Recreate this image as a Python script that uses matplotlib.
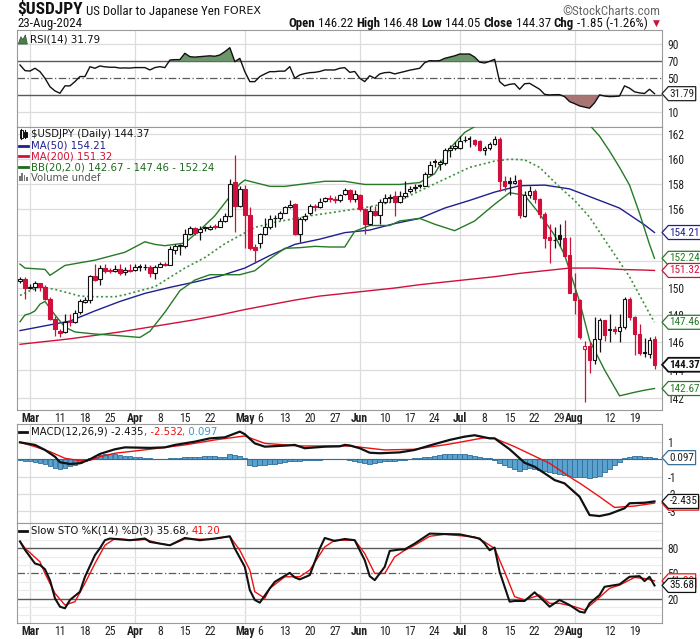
import numpy as np
import matplotlib
matplotlib.use("Agg")
import matplotlib.pyplot as plt
from matplotlib import font_manager as fm
from matplotlib.path import Path
from matplotlib.patches import Rectangle, Polygon

# ------------------------------------------------------------------ data
day_index = list(range(-2, 126))          # trading-day index, 0 = 1-Mar-2024
opens = [150.50, 150.65, 150.00, 150.05, 150.35, 150.05, 149.20, 147.70, 146.80, 146.75,
         147.55, 147.45, 148.20, 148.95, 149.10, 150.90, 150.65, 151.50, 151.35, 151.30,
         151.45, 151.20, 151.35, 151.35, 151.55, 151.55, 151.60, 151.10, 151.60, 151.80,
         151.75, 152.85, 153.20, 153.15, 154.10, 154.55, 154.25, 154.55, 154.50, 154.70,
         154.65, 155.10, 155.50, 158.15, 156.25, 157.60, 155.60, 153.10, 153.40, 154.10,
         154.60, 155.30, 155.30, 155.75, 156.20, 156.40, 154.10, 155.25, 155.70, 156.30,
         156.20, 156.65, 156.90, 156.80, 156.70, 157.20, 157.50, 156.80, 157.10, 156.00,
         154.90, 155.90, 155.55, 156.60, 156.90, 157.05, 156.60, 157.05, 157.45, 157.70,
         157.85, 157.85, 158.80, 159.70, 159.60, 159.65, 160.70, 160.85, 160.85, 161.45,
         161.60, 161.45, 161.40, 160.70, 160.85, 161.20, 161.55, 158.20, 158.20, 158.05,
         158.30, 155.50, 157.15, 157.40, 156.80, 155.65, 153.85, 153.60, 154.05, 153.80,
         152.50, 149.65, 149.10, 145.50, 145.75, 144.70, 146.20, 147.60, 146.90, 146.95,
         146.85, 147.15, 149.20, 147.85, 146.60, 145.30, 145.15, 146.22]
highs = [150.85, 150.80, 150.30, 150.50, 150.40, 150.20, 149.30, 147.90, 146.95, 148.10,
         148.10, 148.40, 149.15, 149.30, 151.00, 151.80, 151.70, 151.80, 151.50, 151.75,
         151.80, 151.55, 151.80, 151.80, 151.80, 151.80, 151.75, 151.75, 151.95, 151.95,
         153.20, 153.30, 153.35, 154.50, 154.70, 154.65, 154.70, 154.75, 154.80, 154.90,
         155.30, 155.70, 158.40, 160.25, 157.80, 157.90, 156.20, 153.30, 154.20, 155.30,
         155.60, 155.60, 155.90, 156.30, 156.70, 156.50, 155.40, 155.70, 156.40, 156.40,
         156.90, 157.00, 157.10, 157.05, 157.20, 157.70, 157.60, 157.50, 157.20, 156.10,
         156.30, 156.30, 156.80, 157.20, 157.20, 157.40, 157.40, 158.20, 157.80, 158.00,
         158.00, 158.95, 159.80, 159.95, 159.90, 160.85, 161.10, 161.35, 161.85, 161.80,
         161.85, 161.60, 161.50, 161.00, 161.30, 161.80, 161.70, 158.60, 158.55, 158.70,
         158.40, 157.40, 157.80, 157.60, 156.90, 155.80, 154.90, 154.60, 154.90, 155.20,
         153.90, 151.10, 149.20, 146.10, 146.00, 147.85, 147.80, 147.65, 148.10, 147.20,
         148.10, 149.35, 149.30, 147.90, 147.30, 146.30, 146.40, 146.48]
lows = [150.35, 149.20, 149.90, 149.80, 149.80, 149.10, 147.60, 146.45, 146.40, 146.70,
        147.20, 147.40, 148.10, 148.85, 148.90, 150.50, 150.20, 151.15, 151.10, 151.20,
        151.00, 151.00, 151.20, 151.30, 151.30, 151.35, 150.80, 150.70, 151.55, 151.65,
        151.70, 152.60, 152.50, 153.00, 154.00, 154.00, 153.60, 154.30, 154.40, 154.50,
        154.60, 155.00, 155.40, 154.25, 156.20, 153.00, 152.85, 151.85, 153.00, 154.00,
        154.50, 154.60, 155.20, 155.70, 156.10, 154.00, 153.50, 155.10, 155.60, 155.90,
        156.10, 156.60, 156.60, 156.50, 156.60, 157.10, 156.60, 156.60, 155.90, 154.10,
        154.80, 155.50, 154.85, 156.50, 156.60, 155.50, 156.50, 156.90, 157.30, 157.45,
        157.70, 157.80, 158.70, 159.30, 159.10, 159.50, 160.10, 160.70, 160.80, 161.30,
        160.90, 161.00, 160.60, 160.30, 160.70, 161.10, 157.40, 157.40, 157.15, 158.00,
        155.30, 155.40, 156.90, 156.50, 155.30, 153.00, 151.85, 153.00, 153.20, 152.40,
        149.60, 148.10, 146.20, 141.70, 143.75, 144.45, 145.30, 146.10, 146.00, 146.60,
        146.00, 147.00, 147.60, 145.10, 145.10, 144.90, 144.85, 144.05]
closes = [150.65, 150.00, 150.05, 150.35, 150.10, 149.20, 147.70, 147.00, 146.70, 147.50,
          147.45, 148.15, 149.00, 149.10, 150.90, 150.60, 151.50, 151.30, 151.25, 151.45,
          151.15, 151.35, 151.30, 151.55, 151.55, 151.60, 151.10, 151.60, 151.80, 151.75,
          152.95, 153.20, 153.25, 154.10, 154.55, 154.20, 154.50, 154.60, 154.65, 154.60,
          155.10, 155.50, 158.00, 156.25, 157.60, 155.60, 153.05, 152.90, 154.10, 154.60,
          155.25, 155.35, 155.70, 156.15, 156.35, 154.10, 155.25, 155.50, 156.30, 156.15,
          156.60, 156.85, 156.80, 156.75, 157.15, 157.50, 156.80, 157.20, 156.00, 154.90,
          155.90, 155.55, 156.60, 156.90, 156.95, 156.60, 157.05, 157.30, 157.60, 157.75,
          157.85, 158.80, 159.50, 159.70, 159.75, 160.70, 160.85, 161.00, 161.40, 161.50,
          161.60, 161.15, 160.70, 160.85, 161.20, 161.55, 158.20, 157.80, 158.05, 158.25,
          155.55, 157.10, 157.45, 156.80, 155.65, 153.80, 153.60, 153.65, 153.75, 152.45,
          149.65, 149.10, 146.40, 145.75, 144.70, 146.20, 147.60, 146.55, 146.95, 146.85,
          147.10, 149.20, 147.85, 146.60, 145.20, 145.20, 146.15, 144.37]

ma50_days = [-2, 3, 8, 13, 18, 23, 28, 33, 38, 43, 48, 53, 58, 63, 68, 73, 78, 83, 88, 93,
             98, 103, 108, 113, 118, 123, 125]
ma50_vals = [146.85, 147.2, 147.55, 148.3, 149.0, 149.6, 150.05, 150.45, 150.9, 151.5,
             152.45, 153.3, 153.7, 154.2, 154.4, 154.9, 155.3, 156.1, 156.7, 157.35,
             157.85, 157.9, 157.6, 156.85, 156.1, 154.8, 154.21]
ma200_days = ma50_days
ma200_vals = [145.85, 146.05, 146.25, 146.5, 146.75, 147.05, 147.35, 147.65, 148.0, 148.4,
              148.75, 149.1, 149.4, 149.6, 149.8, 150.0, 150.25, 150.45, 150.65, 150.85,
              151.1, 151.3, 151.5, 151.5, 151.4, 151.35, 151.32]

bbu_days = [-2, -1, 1, 3, 4, 7, 13, 19, 23, 25, 27, 31, 34, 37, 40, 42, 43, 46, 48, 51, 55,
            59, 63, 67, 74, 78, 81, 84, 87, 90, 94, 98, 103, 108, 112, 114, 116, 118, 120,
            122, 124, 125]
bbu_vals = [151.8, 151.5, 151.45, 151.4, 150.95, 151.7, 152.1, 152.7, 153.5, 153.3, 153.2,
            153.4, 154.4, 155.5, 157.0, 158.0, 158.3, 158.0, 157.8, 157.8, 158.0, 158.2,
            158.2, 157.95, 157.95, 158.1, 158.8, 160.8, 162.1, 162.8, 163.3, 163.6, 163.6,
            163.3, 162.7, 161.8, 160.6, 159.3, 157.9, 155.7, 153.3, 152.24]
bbm_days = [-2, 0, 2, 5, 7, 10, 13, 17, 19, 25, 28, 31, 35, 39, 45, 49, 56, 63, 68, 74, 81,
            88, 93, 96, 99, 102, 106, 109, 112, 116, 120, 124, 125]
bbm_vals = [149.45, 149.8, 150.1, 149.9, 149.7, 149.4, 149.35, 149.35, 149.5, 150.1, 150.8,
            151.5, 152.3, 153.35, 154.6, 155.0, 155.5, 155.9, 156.2, 156.7, 158.0, 159.3,
            159.8, 159.95, 159.9, 159.3, 157.75, 156.7, 155.4, 153.1, 150.85, 148.1, 147.46]
bbl_days = [-2, -1, 0, 1, 2, 3, 4, 5, 7, 9, 13, 17, 22, 24, 27, 30, 33, 36, 39, 42, 45, 48,
            51, 54, 57, 60, 63, 65, 68, 72, 74, 78, 81, 85, 89, 93, 96, 99, 102, 105, 107,
            110, 112, 115, 118, 121, 123, 125]
bbl_vals = [147.5, 148.0, 148.1, 148.3, 148.8, 149.0, 148.5, 148.0, 147.1, 146.75, 146.6,
            146.5, 146.35, 146.8, 148.2, 149.8, 150.6, 151.0, 151.0, 151.0, 151.3, 152.2,
            153.0, 153.05, 153.15, 153.1, 153.1, 154.3, 154.75, 154.75, 155.1, 155.3, 154.85,
            154.35, 155.1, 156.4, 157.3, 157.1, 155.65, 154.0, 152.5, 149.0, 146.15, 144.0,
            142.15, 142.4, 142.55, 142.67]

rsi_vals = [65.7, 59.0, 58.5, 61.8, 57.8, 50.0, 40.0, 35.0, 32.3, 41.0,
            41.0, 46.0, 52.0, 52.0, 63.6, 61.8, 64.5, 63.5, 63.0, 63.0,
            62.0, 62.2, 62.0, 62.6, 62.6, 62.6, 59.8, 62.6, 63.7, 62.6,
            71.5, 72.0, 72.0, 79.5, 75.5, 75.0, 75.5, 76.0, 76.5, 76.0,
            77.5, 81.4, 86.1, 69.6, 73.5, 57.8, 46.0, 46.0, 52.0, 55.1,
            57.8, 57.8, 58.4, 58.4, 63.7, 50.0, 53.9, 55.5, 56.6, 57.0,
            58.0, 59.8, 59.8, 59.8, 61.8, 62.5, 57.0, 58.0, 50.0, 46.0,
            53.0, 50.0, 55.1, 56.6, 57.0, 55.1, 56.5, 58.0, 59.5, 60.6,
            61.8, 68.4, 70.8, 70.5, 70.8, 73.5, 75.0, 76.5, 78.6, 78.6,
            78.6, 75.0, 69.0, 68.0, 70.0, 72.4, 46.0, 41.0, 42.8, 43.5,
            37.0, 43.5, 44.0, 40.5, 37.0, 31.0, 30.3, 30.6, 30.6, 28.3,
            22.4, 20.0, 17.3, 16.0, 14.6, 21.0, 30.3, 29.0, 28.3, 28.5,
            29.0, 41.0, 38.3, 34.0, 32.7, 32.0, 37.0, 31.79]

macd_days = [-2, 1, 3, 5, 6, 8, 10, 12, 14, 17, 19, 24, 27, 29, 33, 36, 39, 42, 43, 45, 47,
             51, 53, 55, 59, 62, 63, 64, 66, 68, 70, 74, 77, 81, 84, 87, 89, 92, 93, 96, 99,
             101, 104, 105, 107, 110, 112, 114, 116, 119, 120, 123, 125]
macd_vals = [0.98, 0.83, 0.54, 0.15, -0.17, -0.27, -0.23, 0.0, 0.31, 0.58, 0.69, 0.66, 0.69,
             0.83, 1.02, 1.21, 1.27, 1.6, 1.45, 0.92, 0.73, 0.79, 0.83, 0.64, 0.73, 0.75, 0.83,
             0.8, 0.64, 0.38, 0.35, 0.4, 0.54, 0.88, 1.12, 1.31, 1.39, 1.21, 1.21, 0.58, -0.2,
             -0.43, -1.0, -1.2, -1.39, -2.16, -3.22, -3.28, -3.16, -2.83, -2.54, -2.51, -2.435]
signal_days = [-2, 1, 4, 7, 10, 12, 14, 17, 24, 31, 37, 43, 47, 54, 64, 71, 77, 84, 91, 93,
               97, 104, 109, 110, 114, 117, 121, 125]
signal_vals = [0.98, 0.73, 0.44, 0.06, -0.08, -0.06, 0.15, 0.35, 0.58, 0.83, 1.12, 1.35, 0.92,
               0.77, 0.77, 0.54, 0.58, 0.88, 1.25, 1.21, 0.73, -0.23, -1.2, -1.37, -2.16,
               -2.78, -2.7, -2.532]
hist_vals = [-0.05, -0.08, -0.10, -0.15, -0.20, -0.28, -0.38, -0.50, -0.55, -0.48,
             -0.40, -0.30, -0.20, -0.08, 0.05, 0.15, 0.25, 0.30, 0.30, 0.28,
             0.25, 0.20, 0.18, 0.15, 0.12, 0.10, 0.06, 0.03, 0.00, 0.02,
             0.05, 0.08, 0.10, 0.12, 0.14, 0.15, 0.16, 0.18, 0.18, 0.17,
             0.16, 0.15, 0.30, 0.25, 0.20, 0.10, -0.30, -0.40, -0.35, -0.30,
             -0.28, -0.25, -0.20, -0.15, -0.12, -0.12, -0.08, -0.06, -0.05, -0.04,
             -0.03, 0.00, 0.02, 0.03, 0.02, 0.02, -0.05, -0.10, -0.15, -0.22,
             -0.25, -0.22, -0.18, -0.12, -0.10, -0.08, -0.05, -0.02, 0.00, 0.05,
             0.10, 0.12, 0.15, 0.20, 0.25, 0.28, 0.30, 0.30, 0.30, 0.28,
             0.25, 0.20, 0.15, 0.10, 0.05, -0.05, -0.20, -0.35, -0.45, -0.55,
             -0.65, -0.55, -0.50, -0.55, -0.60, -0.70, -0.75, -0.80, -0.85, -0.90,
             -0.95, -1.00, -1.05, -1.05, -1.10, -1.05, -0.95, -0.75, -0.55, -0.35,
             -0.15, 0.05, 0.15, 0.20, 0.20, 0.15, 0.12, 0.097]

stok_days = [-2, -1, 1, 2, 3, 4, 5, 6, 7, 8, 10, 11, 13, 14, 15, 16, 20, 23, 24, 28, 31, 34,
             37, 40, 41, 43, 44, 45, 46, 48, 49, 52, 53, 54, 56, 58, 59, 61, 63, 65, 67, 68,
             69, 71, 72, 74, 75, 77, 80, 82, 86, 90, 91, 92, 93, 94, 96, 97, 99, 101, 103,
             104, 106, 108, 110, 111, 112, 114, 115, 118, 120, 122, 123, 124, 125]
stok_vals = [88.0, 78.0, 61.8, 60.0, 55.0, 42.0, 20.4, 10.4, 8.5, 18.4, 28.2, 46.0, 71.7,
             80.0, 89.5, 91.5, 89.5, 91.5, 87.5, 83.5, 92.2, 89.5, 91.5, 94.2, 79.6, 57.8,
             30.2, 18.4, 15.2, 32.2, 40.0, 50.7, 45.2, 42.9, 48.0, 79.6, 92.2, 88.6, 91.0,
             89.5, 65.8, 46.8, 42.0, 57.8, 76.8, 78.4, 78.5, 85.5, 97.4, 97.0, 96.5, 91.5,
             85.5, 77.6, 80.8, 51.9, 16.4, 17.2, 17.2, 27.5, 16.4, 10.4, 18.4, 12.4, 4.5,
             3.3, 14.4, 24.3, 34.1, 37.0, 46.0, 46.8, 40.9, 46.0, 35.68]
stod_days = [-2, -1, 2, 3, 5, 7, 9, 11, 13, 15, 17, 21, 23, 26, 28, 31, 36, 40, 42, 44, 45,
             47, 48, 51, 54, 56, 59, 61, 65, 67, 69, 71, 73, 75, 77, 80, 83, 89, 91, 93, 95,
             97, 99, 102, 104, 106, 109, 111, 113, 116, 118, 121, 123, 125]
stod_vals = [88.3, 80.0, 63.8, 50.0, 26.3, 12.4, 16.4, 38.2, 61.8, 83.5, 91.5, 89.5, 90.5,
             85.5, 83.5, 91.0, 90.5, 94.0, 77.6, 54.0, 28.2, 20.4, 32.2, 46.0, 46.0, 54.0,
             81.5, 89.5, 89.5, 73.7, 50.0, 50.0, 69.7, 77.6, 83.5, 94.2, 96.5, 93.4, 87.5,
             79.6, 51.9, 22.3, 18.4, 24.3, 14.4, 14.4, 10.4, 6.5, 16.4, 32.2, 36.1, 45.2,
             44.0, 41.2]

xtick_days = [0, 6, 11, 16, 21, 26, 31, 36, 43, 46, 51, 56, 61, 66, 71, 76, 81, 86, 91, 96,
              101, 106, 109, 116, 121]
xtick_labels = ["Mar", "11", "18", "25", "Apr", "8", "15", "22", "May", "6", "13", "20", "27",
                "Jun", "10", "17", "24", "Jul", "8", "15", "22", "29", "Aug", "12", "19"]
month_days = [0, 21, 43, 66, 86, 109]
price_ticks = [142, 144, 146, 148, 150, 152, 154, 156, 158, 160, 162]

# ------------------------------------------------------------------ style
avail = {f.name for f in fm.fontManager.ttflist}
def pick(*names):
    for n in names:
        if n in avail:
            return n
    return "DejaVu Sans"
NARROW = pick("Liberation Sans Narrow", "Arial Narrow", "Roboto Condensed", "Liberation Sans")
WIDE = "DejaVu Sans"

RED = "#d0103a"
NAVY = "#1f1f8f"
GREEN = "#267a26"
GRID = "#dcdcdc"
DARK = "#5a5a5a"
BORDER = "#9a9a9a"
HIST_FC = "#5ba2cf"
HIST_EC = "#2e6f9c"

W, H = 700, 639
fig = plt.figure(figsize=(W / 100, H / 100), dpi=100)
LEFT, RIGHT = 17, 662

def add_panel(top, bottom):
    return fig.add_axes([LEFT / W, 1 - bottom / H, (RIGHT - LEFT) / W, (bottom - top) / H])

ax_rsi = add_panel(30, 127)
ax_px = add_panel(127, 410)
ax_macd = add_panel(424, 523)
ax_sto = add_panel(523, 623)

XMIN, XMAX = -2.6, 126.5
for ax in (ax_rsi, ax_px, ax_macd, ax_sto):
    ax.set_xlim(XMIN, XMAX)
    for s in ax.spines.values():
        s.set_color(BORDER)
        s.set_linewidth(0.8)
    ax.yaxis.tick_right()
    ax.tick_params(axis="y", length=0, pad=4, labelsize=8.3, labelcolor="#222222")
    ax.tick_params(axis="x", length=0)
    for d in month_days:
        ax.axvline(d, color=GRID, lw=0.9, zorder=0)
    ax.set_xticks([])

def set_ylabels(ax, ticks, labels):
    ax.set_yticks(ticks)
    ax.set_yticklabels(labels, fontfamily=NARROW)

def set_xlabels(ax):
    ax.set_xticks(xtick_days)
    ax.set_xticklabels(xtick_labels, fontfamily=NARROW, fontsize=8.5, color="#222222")
    for lab in ax.get_xticklabels():
        if lab.get_text().isalpha():
            lab.set_fontweight("bold")
    ax.tick_params(axis="x", length=0, pad=1.5)

# ---- custom tag box (arrow pointing to the axis)
def tag_box(x0, y0, width, height, mutation_size):
    pad = 0.18 * mutation_size
    x0, y0 = x0 - pad * 0.6, y0 - pad
    width, height = width + pad * 1.2, height + 2 * pad
    tip = height * 0.45
    verts = [(x0 - tip, y0 + height / 2), (x0, y0), (x0 + width, y0),
             (x0 + width, y0 + height), (x0, y0 + height), (x0 - tip, y0 + height / 2)]
    return Path(verts, closed=True)

def tag(ax, y, text, ec, tc=None, bold=False, lw=0.9, size=8.0):
    ax.annotate(text, xy=(1, y), xycoords=("axes fraction", "data"), xytext=(5.4, 0),
                textcoords="offset points", ha="left", va="center", fontsize=size,
                fontfamily=NARROW, color=tc or ec, fontweight="bold" if bold else "normal",
                bbox=dict(boxstyle=tag_box, fc="white", ec=ec, lw=lw),
                annotation_clip=False, zorder=20)

# ------------------------------------------------------------------ RSI panel
ax_rsi.set_ylim(-7.6, 107)
for v in (10, 90):
    ax_rsi.axhline(v, color=GRID, lw=0.9, zorder=0)
for v in (30, 70):
    ax_rsi.axhline(v, color=DARK, lw=1.0, zorder=1)
ax_rsi.axhline(50, color=DARK, lw=0.9, ls=(0, (6, 2, 1, 2)), zorder=1)
rsi = np.array(rsi_vals)
xd = np.array(day_index)
ax_rsi.fill_between(xd, 70, rsi, where=rsi > 70, interpolate=True, color="#6a966a", lw=0, zorder=2)
ax_rsi.fill_between(xd, 30, rsi, where=rsi < 30, interpolate=True, color="#a87474", lw=0, zorder=2)
ax_rsi.plot(xd, rsi, color="#111111", lw=1.0, zorder=3)
set_ylabels(ax_rsi, [10, 30, 50, 70, 90], ["10", "", "50", "70", "90"])
tag(ax_rsi, rsi_vals[-1], "31.79", "#222222")
ax_rsi.text(0.02, 0.90, "RSI(14) 31.79", transform=ax_rsi.transAxes, fontsize=7.4,
            fontfamily=WIDE, color="#111111", va="center", ha="left")
ax_rsi.add_patch(Polygon([[0.002, 0.855], [0.006, 0.93], [0.009, 0.90], [0.013, 0.95],
                          [0.016, 0.855]], closed=True, transform=ax_rsi.transAxes,
                         fc="#4d7f4d", ec="#2b4f2b", lw=0.5, zorder=5))

# ------------------------------------------------------------------ price panel
ax_px.set_yscale("log")
ax_px.set_ylim(141.15, 162.54)
ax_px.yaxis.set_minor_locator(matplotlib.ticker.NullLocator())
ax_px.yaxis.set_minor_formatter(matplotlib.ticker.NullFormatter())
for p in price_ticks:
    ax_px.axhline(p, color=GRID, lw=0.9, zorder=0)
set_ylabels(ax_px, price_ticks, [str(p) for p in price_ticks])

ax_px.plot(ma200_days, ma200_vals, color=RED, lw=1.0, zorder=3)
ax_px.plot(ma50_days, ma50_vals, color=NAVY, lw=1.0, zorder=3)
ax_px.plot(bbu_days, bbu_vals, color=GREEN, lw=1.0, zorder=3)
ax_px.plot(bbl_days, bbl_vals, color=GREEN, lw=1.0, zorder=3)
ax_px.plot(bbm_days, bbm_vals, color="#3f8f3f", lw=1.2, ls=(0, (1.2, 1.6)), zorder=3)

BODY_W = 0.74
prev_c = None
for d, o, h, l, c in zip(day_index, opens, highs, lows, closes):
    col = RED if (prev_c is not None and c < prev_c) else "#111111"
    filled = c < o
    ax_px.vlines(d, l, h, color=col, lw=0.9, zorder=4)
    lo, hi = min(o, c), max(o, c)
    if hi - lo < 0.03:
        ax_px.hlines(lo, d - BODY_W / 2, d + BODY_W / 2, color=col, lw=1.4, zorder=5)
    else:
        ax_px.add_patch(Rectangle((d - BODY_W / 2, lo), BODY_W, hi - lo,
                                  fc=col if filled else "white", ec=col, lw=0.8, zorder=5))
    prev_c = c
set_xlabels(ax_px)

tag(ax_px, ma50_vals[-1], "154.21", NAVY)
tag(ax_px, bbu_vals[-1], "152.24", GREEN)
tag(ax_px, ma200_vals[-1], "151.32", RED)
tag(ax_px, bbm_vals[-1], "147.46", GREEN)
tag(ax_px, closes[-1], "144.37", "#111111", bold=True, lw=1.3, size=7.8)
tag(ax_px, bbl_vals[-1], "142.67", GREEN)

# legend of price panel
leg = [("$USDJPY (Daily) 144.37", "#111111", 134.0),
       ("MA(50) 154.21", NAVY, 145.5),
       ("MA(200) 151.32", RED, 156.3),
       ("BB(20,2.0) 142.67 - 147.46 - 152.24", "#1d6b1d", 167.0),
       ("Volume undef", "#555555", 177.6)]
for i, (txt, col, ypx) in enumerate(leg):
    fig.text(31 / W, 1 - ypx / H, txt, fontsize=7.3, fontfamily=WIDE, color=col,
             va="center", ha="left")
    if i in (1, 2, 3):
        fig.add_artist(plt.Line2D([19 / W, 28 / W], [1 - ypx / H] * 2, color=col, lw=2.0))
# candle icon
for k, (yy0, yy1, fc) in enumerate([(130.0, 137.5, "white"), (131.5, 136.5, "#111111")]):
    x0 = 20 + k * 4
    fig.add_artist(plt.Line2D([(x0 + 1.2) / W] * 2, [1 - (yy0 - 1.5) / H, 1 - (yy1 + 1.5) / H],
                              color="#111111", lw=0.8))
    fig.add_artist(Rectangle((x0 / W, 1 - yy1 / H), 2.5 / W, (yy1 - yy0) / H, fc=fc,
                             ec="#111111", lw=0.7, transform=fig.transFigure))
# volume icon
for k, hh in enumerate([5, 8, 6, 4]):
    fig.add_artist(Rectangle(((19 + k * 2.3) / W, 1 - 181 / H), 1.8 / W, hh / H, fc="#777777",
                             ec="none", transform=fig.transFigure))

# ------------------------------------------------------------------ MACD panel
ax_macd.set_ylim(-3.68, 2.04)
for v in (1, 0, -1, -2, -3):
    ax_macd.axhline(v, color=GRID, lw=0.9, zorder=0)
ax_macd.bar(day_index, hist_vals, width=0.95, color=HIST_FC, edgecolor=HIST_EC, lw=0.6,
            zorder=2)
ax_macd.axhline(0, color=HIST_EC, lw=0.8, zorder=2)
ax_macd.plot(signal_days, signal_vals, color="#ee1111", lw=1.0, zorder=3)
ax_macd.plot(macd_days, macd_vals, color="#111111", lw=1.6, zorder=4)
set_ylabels(ax_macd, [1, -1, -2, -3], ["1", "-1", "-2", "-3"])
tag(ax_macd, hist_vals[-1], "0.097", "#3a6f96", tc="#222222")
tag(ax_macd, signal_vals[-1], "-2.532", "#ee1111")
tag(ax_macd, macd_vals[-1], "-2.435", "#111111")
fig.add_artist(plt.Line2D([19 / W, 27 / W], [1 - 431.7 / H] * 2, color="#111111", lw=2.0))
fig.canvas.draw()
rend = fig.canvas.get_renderer()
xx = 31 / W
for txt, col in [("MACD(12,26,9) -2.435", "#111111"), (", -2.532", "#ee1111"),
                 (", 0.097", "#3399cc")]:
    t = fig.text(xx, 1 - 431.7 / H, txt, fontsize=7.3, fontfamily=WIDE, color=col,
                 va="center", ha="left")
    xx += t.get_window_extent(rend).width / W

# ------------------------------------------------------------------ STO panel
ax_sto.set_ylim(-9, 110)
for v in (0, 10, 30, 40, 60, 70, 90, 100):
    ax_sto.axhline(v, color="#ececec", lw=0.8, zorder=0)
for v in (20, 80):
    ax_sto.axhline(v, color=DARK, lw=1.0, zorder=1)
ax_sto.axhline(50, color=DARK, lw=0.9, ls=(0, (6, 2, 1, 2)), zorder=1)
ax_sto.plot(stod_days, stod_vals, color="#ee1111", lw=1.0, zorder=3)
ax_sto.plot(stok_days, stok_vals, color="#111111", lw=1.5, zorder=4)
set_ylabels(ax_sto, [20, 50, 80], ["20", "50", "80"])
set_xlabels(ax_sto)
tag(ax_sto, stod_vals[-1], "41.20", "#ee1111")
tag(ax_sto, stok_vals[-1], "35.68", "#111111")
fig.add_artist(plt.Line2D([19 / W, 27 / W], [1 - 530.7 / H] * 2, color="#111111", lw=2.0))
xx = 31 / W
for txt, col in [("Slow STO %K(14) %D(3) 35.68, ", "#111111"), ("41.20", "#ee1111")]:
    t = fig.text(xx, 1 - 530.7 / H, txt, fontsize=7.3, fontfamily=WIDE, color=col,
                 va="center", ha="left")
    xx += t.get_window_extent(rend).width / W

# ------------------------------------------------------------------ header
def seq(x_px, y_px, pieces, align="left"):
    objs = []
    for txt, kw in pieces:
        objs.append(fig.text(0, 1 - y_px / H, txt, va="baseline", ha="left", **kw))
    widths = [o.get_window_extent(rend).width for o in objs]
    total = sum(widths)
    x = x_px - total if align == "right" else x_px
    for o, w in zip(objs, widths):
        o.set_x(x / W)
        x += w

seq(17, 14.5, [("$USDJPY", dict(fontsize=12.5, fontweight="bold", fontfamily=NARROW, color="#111111")),
               (" US Dollar to Japanese Yen", dict(fontsize=9.3, fontfamily=NARROW, color="#111111")),
               (" FOREX", dict(fontsize=8, fontfamily=WIDE, color="#111111"))])
seq(660, 15, [("\u00a9StockCharts.com", dict(fontsize=9.3, fontfamily=NARROW, color="#666666"))],
    align="right")
seq(17, 27, [("23-Aug-2024", dict(fontsize=9.3, fontfamily=NARROW, color="#111111"))])
B = dict(fontsize=9.3, fontfamily=NARROW, fontweight="bold", color="#111111")
N = dict(fontsize=9.3, fontfamily=NARROW, color="#111111")
seq(651, 27, [("Open", B), (" 146.22 ", N), ("High", B), (" 146.48 ", N), ("Low", B),
              (" 144.05 ", N), ("Close", B), (" 144.37 ", N), ("Chg", B),
              (" -1.85 (-1.26%) ", N)], align="right")
fig.text(656 / W, 1 - 23 / H, "\u25bc", fontsize=6.5, color="#cc1133", va="center", ha="center",
         fontfamily=WIDE)

fig.savefig("out.png", dpi=100)
